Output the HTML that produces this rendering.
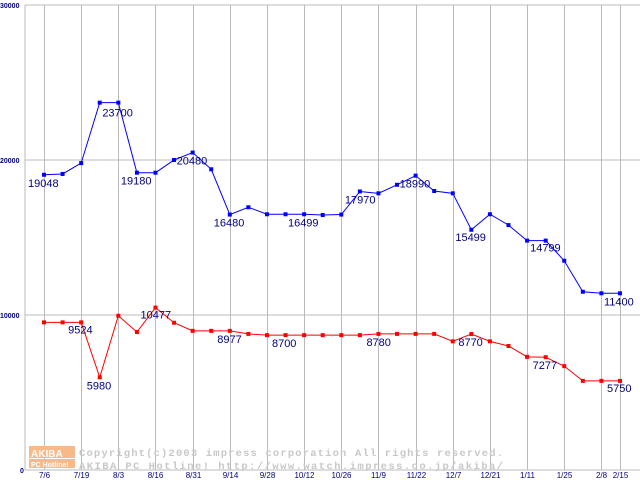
<!DOCTYPE html>
<html><head><meta charset="utf-8"><style>
body{margin:0;background:#fff;}
svg{display:block;font-family:"Liberation Sans","DejaVu Sans",sans-serif;}
</style></head><body>
<svg id="chart" width="640" height="480"></svg>
<script>
const dateLabels=["7/6","7/19","8/3","8/16","8/31","9/14","9/28","10/12","10/26","11/9","11/22","12/7","12/21","1/11","1/25","2/8","2/15"];
const dateIdx=[0,2,4,6,8,10,12,14,16,18,20,22,24,26,28,30,31];
const blueVals=[19048,19100,19800,23700,23700,19180,19180,20000,20480,19400,16480,16950,16499,16499,16499,16450,16480,17970,17850,18400,18990,18000,17850,15499,16500,15800,14799,14799,13500,11500,11400,11400];
const redVals=[9524,9524,9524,5980,9950,8900,10477,9500,8977,8977,8977,8780,8700,8700,8700,8700,8700,8700,8780,8780,8780,8780,8300,8770,8300,8000,7300,7277,6700,5750,5750,5750];
const yTicks=[0,10000,20000,30000];
const blueLabels=[[0,"19048",-16,12],[4,"23700",-16,14],[5,"19180",-16,12],[8,"20480",-16,12],[10,"16480",-16,12],[12,"16499",21,12],[17,"17970",-15,12],[20,"18990",-16,12],[23,"15499",-16,11],[26,"14799",3,11],[31,"11400",-16,12]];
const redLabels=[[2,"9524",-13,11],[3,"5980",-13,12],[6,"10477",-15,11],[9,"8977",6,12],[12,"8700",5,12],[18,"8780",-12,12],[23,"8770",-13,12],[27,"7277",-13,12],[31,"5750",-13,11]];
const svg=document.getElementById('chart');
const NS="http://www.w3.org/2000/svg";
const x0=44,dx=18.58,yb=470,yt=5;
const X=i=>x0+i*dx;
const Y=v=>yb-(v/30000)*(yb-yt);
function mk(t,a){const e=document.createElementNS(NS,t);for(const k in a)e.setAttribute(k,a[k]);svg.appendChild(e);return e;}
// gridlines
let g=mk('line',{x1:25,y1:yt,x2:25,y2:yb,stroke:'#bbb'});


yTicks.forEach(v=>{
 const l=mk('line',{x1:25,y1:Y(v),x2:640,y2:Y(v),stroke:'#bbb'});
 
 
 const t=mk('text',{x:v?0:20,y:Y(v)+3,'font-size':7,'font-weight':'bold',fill:'#000080'});
 t.textContent=String(v);
 
 
});
dateIdx.forEach((di,k)=>{
 const x=Math.round(X(di))+0.5;
 const l=mk('line',{x1:x,y1:yt,x2:x,y2:yb,stroke:'#bbb'});
 
 
 const t=mk('text',{x:x,y:478,'font-size':8,fill:'#000080','text-anchor':'middle'});
 t.textContent=dateLabels[k];
 
 
});
// watermark
const wm=mk('rect',{x:29,y:446,width:46,height:12,fill:'#f7b98a'});


const wm2=mk('rect',{x:29,y:459,width:46,height:9,fill:'#f7b98a'});


[["AKIBA",31,457,10],["PC Hotline!",31,467,7]].forEach(a=>{const t=mk('text',{x:a[1],y:a[2],'font-size':a[3],fill:'#fff','font-weight':'bold'});t.textContent=a[0];

});
[["Copyright(c)2003 impress corporation All rights reserved.",456],["AKIBA PC Hotline!  http://www.watch.impress.co.jp/akiba/",469]].forEach(a=>{
 const t=mk('text',{x:79,y:a[1],'font-size':10.5,fill:'#c8c8c8','font-family':'Liberation Mono, monospace','font-weight':'bold','textLength':424});
 t.textContent=a[0];
 
 
});
function series(vals,col,name,labels){
 const p=mk('polyline',{points:vals.map((v,i)=>X(i)+','+Y(v)).join(' '),fill:'none',stroke:col,'stroke-width':1});
 
 
 vals.forEach((v,i)=>{
  const r=mk('rect',{x:X(i)-2,y:Y(v)-2,width:4,height:4,fill:col});
  
  
 });
 labels.forEach(l=>{
  const t=mk('text',{x:X(l[0])+l[2],y:Y(vals[l[0]])+l[3],'font-size':11,fill:'#000080'});
  t.textContent=l[1];
  
  
 });
}
series(blueVals,'#0000ff','blue-series',blueLabels);
series(redVals,'#ff0000','red-series',redLabels);
</script>
</body></html>
